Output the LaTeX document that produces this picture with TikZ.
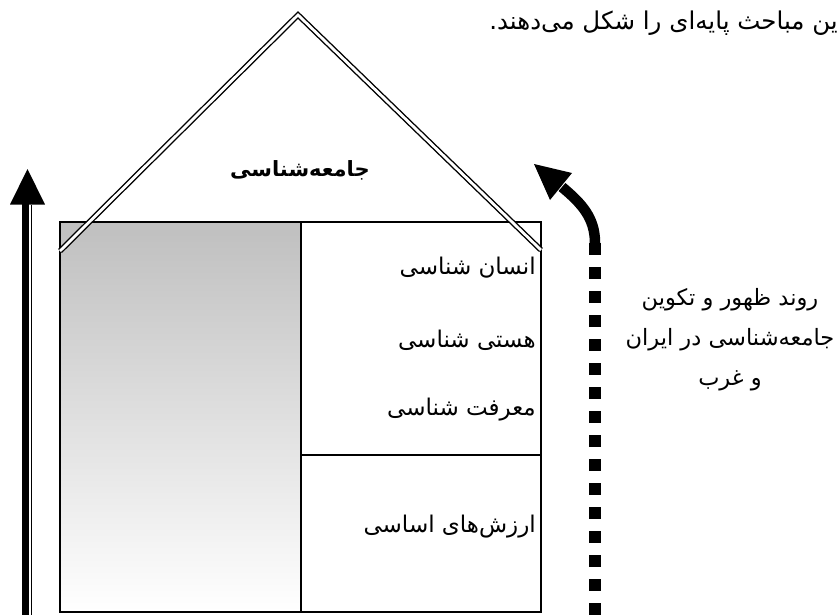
\documentclass[tikz,border=0pt]{standalone}
\usepackage{fontspec}
\TeXXeTstate=1
\newfontfamily\fa[Script=Arabic]{DejaVu Sans}
\begin{document}
\begin{tikzpicture}[x=1pt,y=-1pt,
  lbl/.style={font=\fa\fontsize{23}{27}\selectfont, inner sep=0pt},
  roofline/.style={double, double distance=2.8pt, line width=1.4pt, line join=miter},
  boxline/.style={line width=1.4pt},
  dashshaft/.style={line width=12pt, dash pattern=on 12pt off 12pt},
  curveshaft/.style={line width=10.5pt}]
\useasboundingbox (0,0) rectangle (839,614);
% body
\coordinate (bl) at (60,612);
\coordinate (tl) at (60,222);
\coordinate (tr) at (541,222);
\coordinate (br) at (541,612);
\coordinate (mt) at (301,222);
\coordinate (mb) at (301,612);
\coordinate (hl) at (301,455);
\coordinate (hr) at (541,455);
\shade[top color=gray!50, bottom color=white] (tl) rectangle (mb);
\draw[boxline] (tl) rectangle (br);
\draw[boxline] (mt) -- (mb);
\draw[boxline] (hl) -- (hr);
% roof
\coordinate (rl) at (60,251);
\coordinate (apex) at (298,15);
\coordinate (rr) at (541,250);
\draw[roofline] (rl) -- (apex) -- (rr);
% left arrow
\coordinate (la0) at (25.5,620);
\coordinate (la1) at (25.5,203);
\coordinate (lb0) at (31.8,620);
\coordinate (lb1) at (31.8,204.5);
\draw[line width=7.5pt] (la0) -- (la1);
\draw[line width=1.3pt] (lb0) -- (lb1);
\fill (27.5,169) -- (45,204.5) -- (10,204.5) -- cycle;
% right arrow
\coordinate (ra0) at (595,630);
\coordinate (ra1) at (595,243);
\coordinate (ra2) at (562,187);
\draw[dashshaft] (ra1) -- (ra0);
\draw[curveshaft] (595,246) -- (ra1) to[out=90,in=-40] (ra2);
\fill (534,164) -- (572,173) -- (550,200) -- cycle;
% texts
\node[font=\fa\bfseries\fontsize{21}{25}\selectfont, inner sep=0pt] (title) at (300,170) {\beginR جامعه‌شناسی\endR};
\node[lbl, anchor=east] (l1) at (536,268) {\beginR انسان شناسی\endR};
\node[lbl, anchor=east] (l2) at (536,340) {\beginR هستی شناسی\endR};
\node[lbl, anchor=east] (l3) at (536,410) {\beginR معرفت شناسی\endR};
\node[lbl, anchor=east] (l4) at (536,527) {\beginR ارزش‌های اساسی\endR};
\node[lbl, align=center, font=\fa\fontsize{22.5}{40}\selectfont] (side) at (730,340)
  {\beginR روند ظهور و تکوین\endR\\\beginR جامعه‌شناسی در ایران\endR\\\beginR و غرب\endR};
\node[lbl, anchor=east, font=\fa\fontsize{24.5}{28}\selectfont] (top) at (838,23) {\beginR ین مباحث پایه‌ای را شکل می‌دهند.\endR};
\end{tikzpicture}
\end{document}
